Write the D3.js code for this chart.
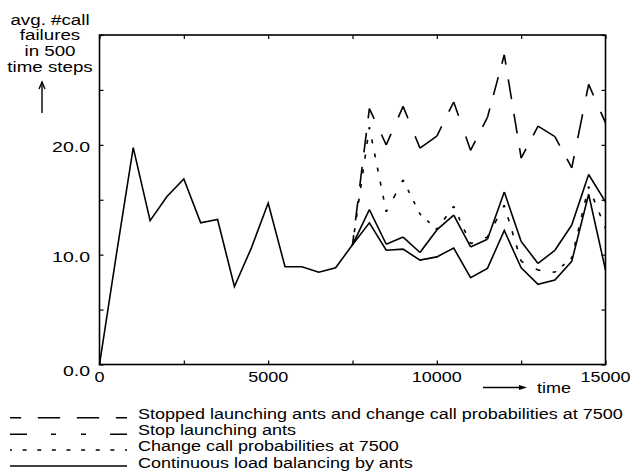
<!DOCTYPE html>
<html>
<head>
<meta charset="utf-8">
<script src="https://cdn.jsdelivr.net/npm/d3@7"></script>
<style>
  html, body { margin: 0; padding: 0; background: #fff; }
  svg { display: block; }
  text { font-family: "Liberation Sans", Arial, Helvetica, sans-serif; fill: #000; }
</style>
</head>
<body>
<svg id="chart" width="642" height="473"></svg>
<script>
// ---- data ----
const timeAll = [0,500,1000,1500,2000,2500,3000,3500,4000,4500,5000,5500,6000,6500,7000,7500,
                 8000,8500,9000,9500,10000,10500,11000,11500,12000,12500,13000,13500,14000,14500,15000];
const continuous = [0,10.0,19.75,13.1,15.3,16.9,12.9,13.2,7.1,10.6,14.7,8.9,8.9,8.4,8.8,10.9,
                    12.9,10.4,10.5,9.5,9.8,10.6,7.9,8.75,12.2,8.8,7.3,7.7,9.4,15.5,8.6];
const timeLate = [7500,8000,8500,9000,9500,10000,10500,11000,11500,12000,12500,13000,13500,14000,14500,15000];
const changeProb = [10.9,21.6,13.9,16.8,13.7,12.3,14.4,11.0,11.6,14.5,9.4,8.6,8.4,9.7,16.2,12.4];
const stopAnts = [10.9,14.1,10.95,11.6,10.2,12.25,13.6,10.7,11.4,15.7,11.2,9.2,10.4,12.7,17.3,14.8];
const stopAndChange = [10.9,23.3,20.0,23.5,19.7,20.8,23.9,19.5,22.5,28.2,18.8,21.7,20.75,17.9,25.5,22.0];
const seriesNames = [
  "Stopped launching ants and change call probabilities at 7500",
  "Stop launching ants",
  "Change call probabilities at 7500",
  "Continuous load balancing by ants"
];
const xTickValues = [0,2500,5000,7500,10000,12500,15000];
const xLabelValues = [0,5000,10000,15000];
const yTickValues = [0,5,10,15,20,25,30];
const yLabelValues = [0,10,20];
const yTitle = ["avg. #call","failures","in 500","time steps"];
const xTitle = "time";

// dash patterns (per-segment, symmetric ends like the original plotter)
const patterns = {
  stopAndChange: [20,15],
  stopAnts: [34,24,5,25,5,24],
  changeProb: [4,10.6],
  solid: null
};

const svg = d3.select("#chart");
const x = d3.scaleLinear().domain([0,15000]).range([99.5,605.5]);
const y = d3.scaleLinear().domain([0,30]).range([364.5,35]);
const SX = 1.2; // horizontal text stretch
const FS = 15;

function stretchedText(g, str, px, py, anchor, sx) {
  return g.append("text")
    .attr("transform", `translate(${px},${py}) scale(${sx || SX},1)`)
    .attr("font-size", FS)
    .attr("text-anchor", anchor || "start")
    .text(str);
}

// frame
svg.append("rect")
  .attr("x", x(0)).attr("y", y(30))
  .attr("width", x(15000)-x(0)).attr("height", y(0)-y(30))
  .attr("fill","none").attr("stroke","#000").attr("stroke-width",1.6);

// ticks (inward on all four sides)
const tickLen = 4;
const axG = svg.append("g");
axG.append("g").attr("transform",`translate(0,${y(0)})`)
  .call(d3.axisBottom(x).tickValues(xTickValues).tickSizeInner(-tickLen).tickSizeOuter(0).tickFormat(""));
axG.append("g").attr("transform",`translate(0,${y(30)})`)
  .call(d3.axisTop(x).tickValues(xTickValues).tickSizeInner(-tickLen).tickSizeOuter(0).tickFormat(""));
axG.append("g").attr("transform",`translate(${x(0)},0)`)
  .call(d3.axisLeft(y).tickValues(yTickValues).tickSizeInner(-tickLen).tickSizeOuter(0).tickFormat(""));
axG.append("g").attr("transform",`translate(${x(15000)},0)`)
  .call(d3.axisRight(y).tickValues(yTickValues).tickSizeInner(-tickLen).tickSizeOuter(0).tickFormat(""));
axG.selectAll(".domain").remove();
axG.selectAll(".tick line").attr("stroke","#000").attr("stroke-width",1.2);

// tick labels
const lab = svg.append("g");
xLabelValues.forEach(v => {
  stretchedText(lab, String(v), x(v), 382, "middle");
});
yLabelValues.forEach(v => {
  stretchedText(lab, v.toFixed(1), 90, v===0 ? 376 : y(v)+7, "end", 1.3);
});

// y title
const yBase = [24.5, 40, 55.5, 72];
yTitle.forEach((s,i) => stretchedText(lab, s, 50, yBase[i], "middle", 1.25));
// up arrow
lab.append("line").attr("x1",42).attr("x2",42).attr("y1",113).attr("y2",82)
  .attr("stroke","#000").attr("stroke-width",1.4);
lab.append("path").attr("d","M39,89 L42,82 L45,89").attr("fill","none")
  .attr("stroke","#000").attr("stroke-width",1.4);

// x title with arrow
lab.append("line").attr("x1",483).attr("x2",521).attr("y1",387.5).attr("y2",387.5)
  .attr("stroke","#000").attr("stroke-width",1.3);
lab.append("path").attr("d","M519,385 L527,387.5 L519,390 Z").attr("fill","#000");
stretchedText(lab, xTitle, 537, 393, "start");

// segment-wise dashed drawing
function drawSegment(g, p0, p1, pattern) {
  const L = Math.hypot(p1[0]-p0[0], p1[1]-p0[1]);
  const ln = g.append("line")
    .attr("x1",p0[0]).attr("y1",p0[1]).attr("x2",p1[0]).attr("y2",p1[1])
    .attr("stroke","#000").attr("stroke-width",1.6).attr("stroke-linecap","butt");
  if (!pattern) return;
  const P = d3.sum(pattern);
  if (L < P) return; // short segments drawn solid
  const n = Math.max(1, Math.round(L / P));
  const s = L / (n * P);
  ln.attr("stroke-dasharray", pattern.map(d => d*s).join(","))
    .attr("stroke-dashoffset", pattern[0]*s/2);
}
function drawSeries(times, vals, pattern) {
  const g = svg.append("g");
  const pts = times.map((t,i) => [x(t), y(vals[i])]);
  if (!pattern) {
    g.append("path").datum(pts)
      .attr("d", d3.line())
      .attr("fill","none").attr("stroke","#000").attr("stroke-width",1.6)
      .attr("stroke-linejoin","miter");
    return;
  }
  for (let i = 0; i < pts.length-1; i++) drawSegment(g, pts[i], pts[i+1], pattern);
}

drawSeries(timeAll, continuous, patterns.solid);
drawSeries(timeLate, stopAnts, patterns.stopAnts);
drawSeries(timeLate, changeProb, patterns.changeProb);
drawSeries(timeLate, stopAndChange, patterns.stopAndChange);

// legend
const leg = svg.append("g");
const legPatterns = [patterns.stopAndChange, patterns.stopAnts, patterns.changeProb, patterns.solid];
const legLineY = [417.7, 434.3, 450, 466];
const legTextY = [419, 434.5, 451, 467.5];
seriesNames.forEach((name,i) => {
  if (legPatterns[i]) drawSegment(leg, [10, legLineY[i]], [127, legLineY[i]], legPatterns[i]);
  else leg.append("line").attr("x1",10).attr("x2",127).attr("y1",legLineY[i]).attr("y2",legLineY[i])
      .attr("stroke","#000").attr("stroke-width",1.6);
  stretchedText(leg, name, 138, legTextY[i], "start");
});
</script>
</body>
</html>
